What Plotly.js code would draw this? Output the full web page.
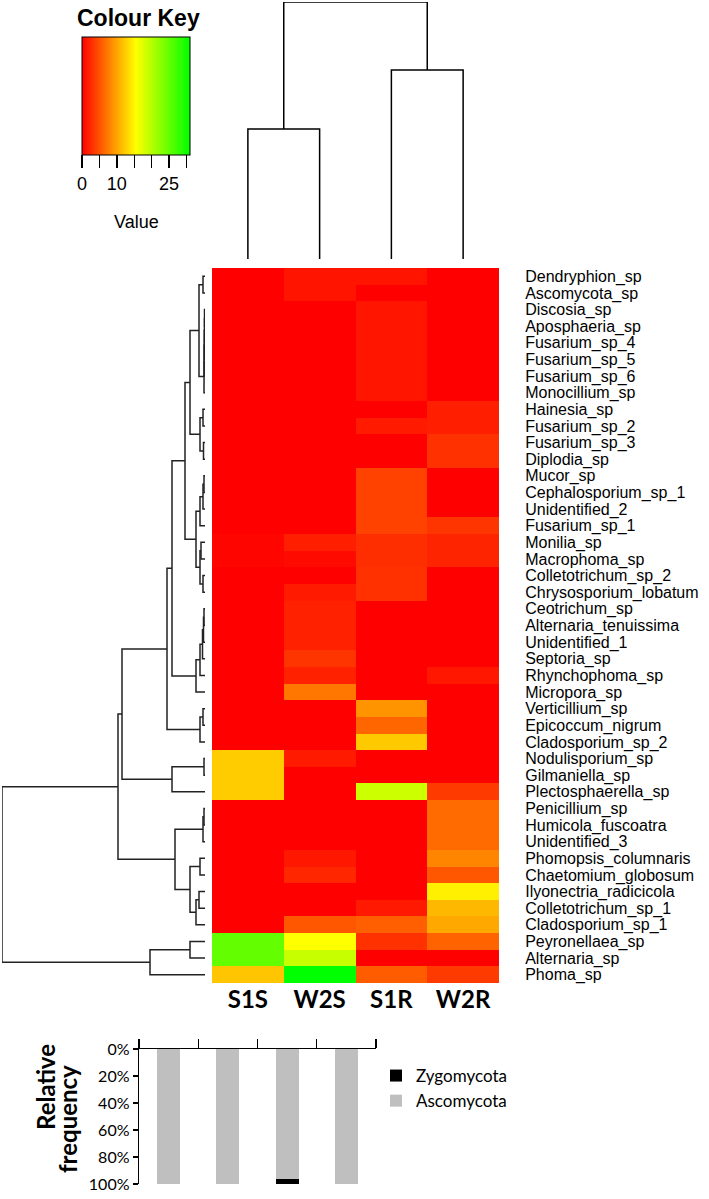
<!DOCTYPE html>
<html>
<head>
<meta charset="utf-8">
<script src="https://cdn.plot.ly/plotly-3.0.1.min.js"></script>
<style>
  html, body { margin: 0; padding: 0; background: #fff; }
  #plot { width: 709px; height: 1199px; }
</style>
</head>
<body>
<div id="plot"></div>
<script>
// heatmap rows, top to bottom
var species = ['Dendryphion_sp', 'Ascomycota_sp', 'Discosia_sp', 'Aposphaeria_sp',
  'Fusarium_sp_4', 'Fusarium_sp_5', 'Fusarium_sp_6', 'Monocillium_sp', 'Hainesia_sp',
  'Fusarium_sp_2', 'Fusarium_sp_3', 'Diplodia_sp', 'Mucor_sp', 'Cephalosporium_sp_1',
  'Unidentified_2', 'Fusarium_sp_1', 'Monilia_sp', 'Macrophoma_sp', 'Colletotrichum_sp_2',
  'Chrysosporium_lobatum', 'Ceotrichum_sp', 'Alternaria_tenuissima', 'Unidentified_1',
  'Septoria_sp', 'Rhynchophoma_sp', 'Micropora_sp', 'Verticillium_sp', 'Epicoccum_nigrum',
  'Cladosporium_sp_2', 'Nodulisporium_sp', 'Gilmaniella_sp', 'Plectosphaerella_sp',
  'Penicillium_sp', 'Humicola_fuscoatra', 'Unidentified_3', 'Phomopsis_columnaris',
  'Chaetomium_globosum', 'Ilyonectria_radicicola', 'Colletotrichum_sp_1',
  'Cladosporium_sp_1', 'Peyronellaea_sp', 'Alternaria_sp', 'Phoma_sp'];

var samples = ['S1S', 'W2S', 'S1R', 'W2R'];

var valS1S = [0, 0, 0, 0, 0, 0, 0, 0, 0, 0, 0, 0, 0, 0, 0, 0, 0.3, 0.3, 0, 0,
  0, 0, 0, 0, 0, 0, 0, 0, 0, 12.4, 12.4, 12.4, 0, 0, 0, 0, 0, 0, 0, 0, 25, 25, 12];
var valW2S = [1.2, 1.2, 0, 0, 0, 0, 0, 0, 0, 0, 0, 0, 0, 0, 0, 0, 1.8, 0.6, 0, 1.6,
  2, 2, 2, 3.2, 2, 7.2, 0, 0, 0, 1.6, 0, 0, 0, 0, 0, 1.4, 2.3, 0, 0, 5.3, 15.5, 18.9, 31];
var valS1R = [1.2, 0, 1.3, 1.3, 1.3, 1.3, 1.3, 1.3, 0, 1.6, 0, 0, 4, 4, 4, 4, 2.8, 2.8, 3, 3,
  0, 0, 0, 0, 0, 0, 9, 6.2, 12.2, 0, 0, 18.6, 0, 0, 0, 0, 0, 0, 1.5, 5.8, 3, 0, 5.6];
var valW2R = [0, 0, 0, 0, 0, 0, 0, 0, 1.8, 1.8, 3, 3, 0, 0, 0, 3.2, 2.2, 2.2, 0, 0,
  0, 0, 0, 0, 1.4, 0, 0, 0, 0, 0, 0, 3.5, 6.5, 6.5, 6.5, 8, 5.2, 14.5, 11.2, 10.2, 6, 0, 3.5];

// hclust style merges: negative = leaf (row number), positive = earlier merge
var rowMerges = [
  [-1, -2, 0.4], [-3, -4, 0.1], [2, -5, 0.12], [3, -6, 0.15], [4, -7, 0.18],
  [5, -8, 0.2], [1, 6, 1.2], [-9, -10, 0.4], [-11, -12, 0.3], [8, 9, 1.0],
  [7, 10, 3.0], [-13, -14, 0.2], [12, -15, 0.4], [13, -16, 1.0], [-17, -18, 0.8],
  [-19, -20, 0.4], [15, 16, 1.0], [14, 17, 1.8], [11, 18, 4.0], [-21, -22, 0.2],
  [20, -23, 0.3], [21, -24, 0.5], [22, -25, 1.0], [23, -26, 1.8], [19, 24, 6.6],
  [-27, -28, 0.4], [26, -29, 1.0], [25, 27, 7.6], [-30, -31, 0.2], [29, -32, 6.6],
  [28, 30, 16.6], [-33, -34, 0.2], [32, -35, 0.4], [-36, -37, 1.0], [-38, -39, 1.2],
  [35, -40, 1.8], [34, 36, 3.0], [33, 37, 6.0], [31, 38, 17.4], [-41, -42, 3.0],
  [40, -43, 11.0], [39, 41, 40.6]];
var colMerges = [[-1, -2, 5.06], [-3, -4, 7.35], [1, 2, 10]];

var phyla = ['Ascomycota', 'Zygomycota'];
var ascomycota = [100, 100, 96.5, 100];
var zygomycota = [0, 0, 3.5, 0];

var keyTicks = [0, 5, 10, 15, 20, 25, 30];
var keyLabels = ['0', '', '10', '', '', '25', ''];
var pctTicks = [0, 20, 40, 60, 80, 100];

var W = 709, H = 1199;
function px(v) { return v / W; }
function py(v) { return 1 - v / H; }

// leaf positions start at leafBase (1 for rows, 0 for columns)
function dendroLines(merges, leafBase) {
  var pos = [], hgt = [], a = [], b = [];
  function get(ref) {
    if (ref < 0) return [-ref - 1 + leafBase, 0];
    return [pos[ref - 1], hgt[ref - 1]];
  }
  merges.forEach(function (m) {
    var p = get(m[0]), q = get(m[1]);
    a.push(p[0], p[0], q[0], q[0], null);
    b.push(p[1], m[2], m[2], q[1], null);
    pos.push((p[0] + q[0]) / 2);
    hgt.push(m[2]);
  });
  return { pos: a, h: b };
}

var rowIdx = species.map(function (s, i) { return i + 1; });
var z = species.map(function (s, i) {
  return [valS1S[i], valW2S[i], valS1R[i], valW2R[i]];
});

var heat = {
  type: 'heatmap', z: z, x: [0, 1, 2, 3], y: rowIdx,
  xaxis: 'x', yaxis: 'y', zmin: 0, zmax: 31,
  colorscale: [[0, '#ff0000'], [0.5, '#ffff00'], [1, '#00ff00']],
  hoverinfo: 'skip', showlegend: false,
  colorbar: {
    orientation: 'h', x: px(136), xanchor: 'center', y: py(37), yanchor: 'top',
    len: 108, lenmode: 'pixels', thickness: 118, thicknessmode: 'pixels',
    xpad: 0, ypad: 0, outlinewidth: 1, outlinecolor: '#000',
    tickmode: 'array', tickvals: keyTicks, ticktext: keyLabels,
    ticks: 'outside', ticklen: 13, tickwidth: 1.5, tickcolor: '#000',
    tickfont: { family: 'Liberation Sans', size: 18, color: '#000' }
  }
};

var cd = dendroLines(colMerges, 0);
var colDendro = {
  type: 'scatter', mode: 'lines', x: cd.pos, y: cd.h, xaxis: 'x2', yaxis: 'y2',
  line: { color: '#000', width: 1.5 }, hoverinfo: 'skip', showlegend: false
};
var rd = dendroLines(rowMerges, 1);
var rowDendro = {
  type: 'scatter', mode: 'lines', x: rd.h, y: rd.pos, xaxis: 'x3', yaxis: 'y3',
  line: { color: '#222', width: 1.5 }, hoverinfo: 'skip', showlegend: false
};

var barAsc = {
  type: 'bar', name: phyla[0], x: [0, 1, 2, 3], y: ascomycota, width: 0.39,
  xaxis: 'x4', yaxis: 'y4', marker: { color: '#bfbfbf' }, legendgroup: 'a', hoverinfo: 'skip'
};
var barZyg = {
  type: 'bar', name: phyla[1], x: [0, 1, 2, 3], y: zygomycota, width: 0.39,
  xaxis: 'x4', yaxis: 'y4', marker: { color: '#000' }, legendgroup: 'b', hoverinfo: 'skip'
};

var hX = [px(212), px(499)];
var hY = [py(983), py(268)];

function note(text, x, y, font, angle) {
  return { text: text, x: px(x), y: py(y), xref: 'paper', yref: 'paper',
    xanchor: 'center', yanchor: 'middle', textangle: angle || 0,
    showarrow: false, font: font };
}

var layout = {
  width: W, height: H,
  margin: { l: 0, r: 0, t: 0, b: 0 },
  paper_bgcolor: '#fff', plot_bgcolor: 'rgba(0,0,0,0)',
  font: { family: 'Liberation Sans', color: '#000' },
  barmode: 'stack',
  xaxis: {
    domain: hX, range: [-0.5, 3.5], anchor: 'y',
    tickmode: 'array', tickvals: [0, 1, 2, 3], ticktext: samples,
    tickfont: { family: 'Lato', size: 24, weight: 'bold', color: '#000' },
    ticks: '', showgrid: false, zeroline: false, showline: false, fixedrange: true
  },
  yaxis: {
    domain: hY, range: [43.5, 0.5], anchor: 'x', side: 'right',
    tickmode: 'array', tickvals: rowIdx, ticktext: species,
    ticks: 'outside', ticklen: 22, tickcolor: 'rgba(0,0,0,0)',
    tickfont: { family: 'Liberation Sans', size: 16, color: '#000' },
    showgrid: false, zeroline: false, showline: false, fixedrange: true
  },
  xaxis2: { domain: hX, range: [-0.5, 3.5], anchor: 'y2', visible: false, fixedrange: true },
  yaxis2: { domain: [py(259), py(2)], range: [0, 10], anchor: 'x2', visible: false, fixedrange: true },
  xaxis3: { domain: [px(2), px(205)], range: [40.6, 0], anchor: 'y3', visible: false, fixedrange: true },
  yaxis3: { domain: hY, range: [43.5, 0.5], anchor: 'x3', visible: false, fixedrange: true },
  xaxis4: {
    domain: [px(139), px(376)], range: [-0.5, 3.5], anchor: 'y4', side: 'top',
    tickmode: 'array', tickvals: [-0.5, 0.5, 1.5, 2.5, 3.5], showticklabels: false,
    ticks: 'outside', ticklen: 9, tickwidth: 1.3, tickcolor: '#000',
    showline: true, linecolor: '#000', linewidth: 1.3,
    showgrid: false, zeroline: false, fixedrange: true
  },
  yaxis4: {
    domain: [py(1184), py(1049)], range: [100, 0], anchor: 'x4',
    tickmode: 'array', tickvals: pctTicks,
    ticktext: pctTicks.map(function (v) { return v + '%'; }),
    ticks: 'outside', ticklen: 5, tickwidth: 1.3, tickcolor: '#000',
    showline: true, linecolor: '#000', linewidth: 1.3,
    tickfont: { family: 'Lato', size: 16, color: '#000' },
    showgrid: false, zeroline: false, fixedrange: true
  },
  showlegend: true,
  legend: {
    x: px(376), y: py(1058), xanchor: 'left', yanchor: 'top',
    traceorder: 'reversed', tracegroupgap: 18,
    font: { family: 'Lato', size: 17, color: '#000' }, bgcolor: 'rgba(0,0,0,0)'
  },
  annotations: [
    note('Colour Key', 138, 18, { size: 23, weight: 'bold' }),
    note('Value', 136, 222, { size: 18 }),
    note('Relative', 45, 1087, { family: 'Lato', size: 24, weight: 'bold' }, -90),
    note('frequency', 67, 1119, { family: 'Lato', size: 24, weight: 'bold' }, -90)
  ]
};

Plotly.newPlot(document.getElementById('plot'), [heat, colDendro, rowDendro, barAsc, barZyg],
  layout, { staticPlot: true });
</script>
</body>
</html>
